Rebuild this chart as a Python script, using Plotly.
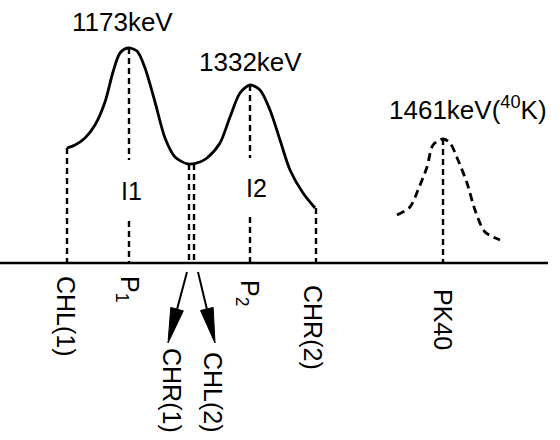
import numpy as np
import plotly.graph_objects as go

# ---------------- data (channel, counts) ----------------
# Co-60 double peak (solid curve)
peak_ch = [67, 75, 85, 95, 105, 113, 120, 128, 137, 145, 155, 165, 175, 188,
           200, 207, 220, 230, 240, 250, 260, 270, 280, 290, 303, 315]
peak_counts = [115, 118, 125, 138, 161, 191, 210, 215, 212, 195, 161, 125, 106, 99,
               101, 105, 120, 146, 170, 178, 173, 153, 123, 93, 70, 55]

# K-40 peak (dashed curve)
k40_ch = [397, 410, 418, 427, 433, 443, 450, 458, 467, 475, 485, 500]
k40_counts = [48, 56, 73, 96, 118, 124, 120, 103, 80, 53, 31, 23]

# channel markers
marker_names = ["CHL(1)", "P<sub>1</sub>", "CHR(1)", "CHL(2)", "P<sub>2</sub>", "CHR(2)", "PK40"]
marker_ch = [67, 129, 189, 194, 250, 316, 443]
marker_top = [115, 215, 99, 99, 178, 55, 124]

peak_labels = ["1173keV", "1332keV", "1461keV(<sup>40</sup>K)"]
area_labels = ["I1", "I2"]

BASE_END = 548

fig = go.Figure()

# baseline
fig.add_trace(go.Scatter(x=[0, BASE_END], y=[0, 0], mode="lines",
                         line=dict(color="black", width=2.5), hoverinfo="skip"))

# solid Co-60 curve
fig.add_trace(go.Scatter(x=peak_ch, y=peak_counts, mode="lines",
                         line=dict(color="black", width=2.8, shape="spline", smoothing=0.8),
                         hoverinfo="skip"))

# dashed K-40 curve
fig.add_trace(go.Scatter(x=k40_ch, y=k40_counts, mode="lines",
                         line=dict(color="black", width=2.8, shape="spline", smoothing=0.8,
                                   dash="8px,5px"),
                         hoverinfo="skip"))

# vertical dashed marker lines (P1 and P2 interrupted by the I1 / I2 labels)
gaps = {1: (103, 42), 4: (105, 46)}
vx, vy = [], []
for i, (c, t) in enumerate(zip(marker_ch, marker_top)):
    if i in gaps:
        hi, lo = gaps[i]
        vx += [c, c, None, c, c, None]
        vy += [t, hi, None, lo, 0, None]
    else:
        vx += [c, c, None]
        vy += [t, 0, None]
fig.add_trace(go.Scatter(x=vx, y=vy, mode="lines",
                         line=dict(color="black", width=2.4, dash="6px,4px"),
                         hoverinfo="skip"))

# arrows pointing to CHR(1) / CHL(2) labels
arrow_start = [(187, -9), (198, -9)]
arrow_tip = [(168, -80), (215, -80)]
HEAD_L, HEAD_W = 35, 6.5
for (sx, sy), (tx, ty) in zip(arrow_start, arrow_tip):
    d = np.array([tx - sx, ty - sy], dtype=float)
    u = d / np.linalg.norm(d)
    n = np.array([-u[1], u[0]])
    b = np.array([tx, ty]) - HEAD_L * u
    fig.add_trace(go.Scatter(x=[sx, b[0]], y=[sy, b[1]], mode="lines",
                             line=dict(color="black", width=2), hoverinfo="skip"))
    p1 = b + HEAD_W * n
    p2 = b - HEAD_W * n
    fig.add_trace(go.Scatter(x=[tx, p1[0], p2[0], tx], y=[ty, p1[1], p2[1], ty],
                             mode="lines", fill="toself", fillcolor="black",
                             line=dict(color="black", width=1), hoverinfo="skip"))

FONT = dict(family="Liberation Sans, Arial, sans-serif", size=25, color="black")
FONT_TOP = dict(family="Liberation Sans, Arial, sans-serif", size=26, color="black")

# peak energy labels
for txt, (x, y) in zip(peak_labels, [(122, 241), (250, 201), (468, 155)]):
    fig.add_annotation(x=x, y=y, text=txt, showarrow=False, font=FONT_TOP,
                       xanchor="center", yanchor="middle")

# area labels
for txt, (x, y) in zip(area_labels, [(131, 72), (256, 75)]):
    fig.add_annotation(x=x, y=y, text=txt, showarrow=False, font=FONT,
                       xanchor="center", yanchor="middle")

# rotated channel labels
label_pos = [(66, -53), (128, -26), (172, -127), (213, -129), (248, -30), (313, -64), (443, -56)]
for txt, (x, y) in zip(marker_names, label_pos):
    fig.add_annotation(x=x, y=y, text=txt, showarrow=False, font=FONT, textangle=90,
                       xanchor="center", yanchor="middle")

fig.update_layout(
    width=560, height=440,
    margin=dict(l=0, r=0, t=0, b=0),
    paper_bgcolor="white", plot_bgcolor="white",
    showlegend=False,
    xaxis=dict(range=[0, 560], visible=False, fixedrange=True),
    yaxis=dict(range=[-177, 263], visible=False, fixedrange=True),
)

fig.write_html("out.html")
